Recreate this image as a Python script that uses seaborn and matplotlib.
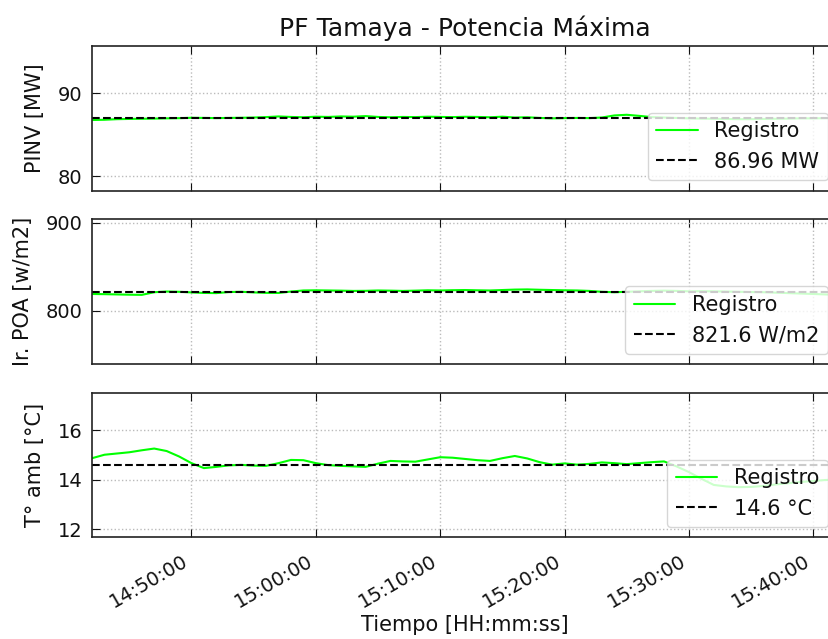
import pandas as pd
import matplotlib
matplotlib.use("Agg")
import matplotlib.pyplot as plt
import matplotlib.dates as mdates
import seaborn as sns

# Datos (un registro por minuto, 14:42 -> 15:42)
tiempo = pd.date_range("2023-01-01 14:42:00", periods=61, freq="min")

pinv = [86.75, 86.78, 86.85, 86.88, 86.90, 86.92, 86.95, 86.97, 87.02, 87.00,
        86.98, 87.00, 87.02, 87.05, 87.10, 87.18, 87.12, 87.08, 87.15, 87.12,
        87.18, 87.15, 87.22, 87.12, 87.08, 87.12, 87.10, 87.15, 87.12, 87.10,
        87.14, 87.12, 87.08, 87.15, 87.05, 87.08, 87.00, 86.95, 86.98, 87.00,
        86.98, 87.05, 87.30, 87.38, 87.25, 87.10, 87.05, 87.00, 86.95, 86.92,
        86.90, 86.88, 86.85, 86.85, 86.88, 86.90, 86.92, 86.95, 86.95, 86.97,
        86.98]

poa = [819.0, 818.8, 818.5, 818.2, 818.0, 821.0, 821.8, 821.5, 820.8, 820.2,
       820.0, 821.2, 821.5, 820.8, 820.3, 820.2, 821.8, 823.0, 823.2, 823.0,
       822.8, 822.5, 822.6, 823.0, 822.8, 822.5, 822.8, 823.2, 823.0, 823.3,
       823.5, 823.2, 823.0, 823.5, 824.0, 824.2, 823.8, 823.5, 823.2, 823.0,
       822.5, 821.5, 821.0, 821.5, 822.0, 822.5, 822.8, 822.5, 822.0, 822.2,
       822.0, 821.8, 821.5, 821.2, 821.0, 820.5, 820.0, 819.5, 819.0, 818.5,
       818.0]

tamb = [14.88, 15.02, 15.07, 15.12, 15.20, 15.27, 15.17, 14.95, 14.68, 14.48,
        14.53, 14.59, 14.61, 14.58, 14.57, 14.68, 14.81, 14.80, 14.68, 14.60,
        14.57, 14.55, 14.53, 14.66, 14.77, 14.75, 14.74, 14.83, 14.92, 14.90,
        14.85, 14.80, 14.77, 14.88, 14.97, 14.87, 14.72, 14.62, 14.67, 14.62,
        14.65, 14.71, 14.68, 14.64, 14.68, 14.72, 14.75, 14.55, 14.32, 14.05,
        13.80, 13.74, 13.71, 13.72, 13.76, 13.82, 13.87, 13.92, 13.96, 14.00,
        14.02]

# valores de referencia (maxima potencia) que muestra la leyenda
ref_pinv = 86.96
ref_poa = 821.6
ref_tamb = 14.6

sns.set_style("ticks")
plt.rcParams.update({
    "font.family": ["DejaVu Sans"],
    "font.size": 14,
    "text.color": "#111111",
    "axes.labelcolor": "#111111",
    "xtick.color": "#111111",
    "ytick.color": "#111111",
    "xtick.direction": "in",
    "ytick.direction": "in",
    "xtick.top": True,
    "ytick.right": True,
    "xtick.major.size": 6,
    "ytick.major.size": 6,
    "xtick.major.pad": 10,
    "ytick.major.pad": 7,
    "axes.linewidth": 1.2,
    "axes.edgecolor": "#222222",
})

fig, axs = plt.subplots(3, 1, sharex=True, figsize=(8.29, 6.39), dpi=100)
fig.subplots_adjust(left=0.111, right=1.011, bottom=0.159, top=0.928, hspace=0.2)

paneles = [
    (pinv, ref_pinv, "PINV [MW]", f"{ref_pinv:.2f} MW", 0.9, 1.1, [80, 90]),
    (poa, ref_poa, "Ir. POA [w/m2]", f"{ref_poa:.1f} W/m2", 0.9, 1.1, [800, 900]),
    (tamb, ref_tamb, "T° amb [°C]", f"{ref_tamb:.1f} °C", 0.8, 1.2, [12, 14, 16]),
]

for ax, (serie, ref, ylabel, etiqueta, fmin, fmax, yticks) in zip(axs, paneles):
    df = pd.DataFrame({"tiempo": tiempo, "valor": serie})
    sns.lineplot(data=df, x="tiempo", y="valor", color="#00ff00", linewidth=1.5,
                 label="Registro", ax=ax)
    ax.axhline(ref, color="black", linestyle="--", linewidth=1.5, label=etiqueta)
    ax.set_ylim(ref * fmin, ref * fmax)
    ax.set_yticks(yticks)
    ax.set_ylabel(ylabel, fontsize=15, labelpad=9)
    ax.set_xlabel("")
    ax.grid(True, linestyle=":", color="#bbbbbb", linewidth=1)
    ax.legend(loc="lower right", fontsize=15)

axs[0].set_xlim(tiempo[0], tiempo[-1])
axs[0].set_title("PF Tamaya - Potencia Máxima", fontsize=18, pad=7)
axs[-1].xaxis.set_major_locator(mdates.MinuteLocator(byminute=range(0, 60, 10)))
axs[-1].xaxis.set_major_formatter(mdates.DateFormatter("%H:%M:%S"))
plt.setp(axs[-1].get_xticklabels(), rotation=30, ha="right")
axs[-1].set_xlabel("Tiempo [HH:mm:ss]", fontsize=15, labelpad=3)

plt.savefig("out.png", dpi=100)
